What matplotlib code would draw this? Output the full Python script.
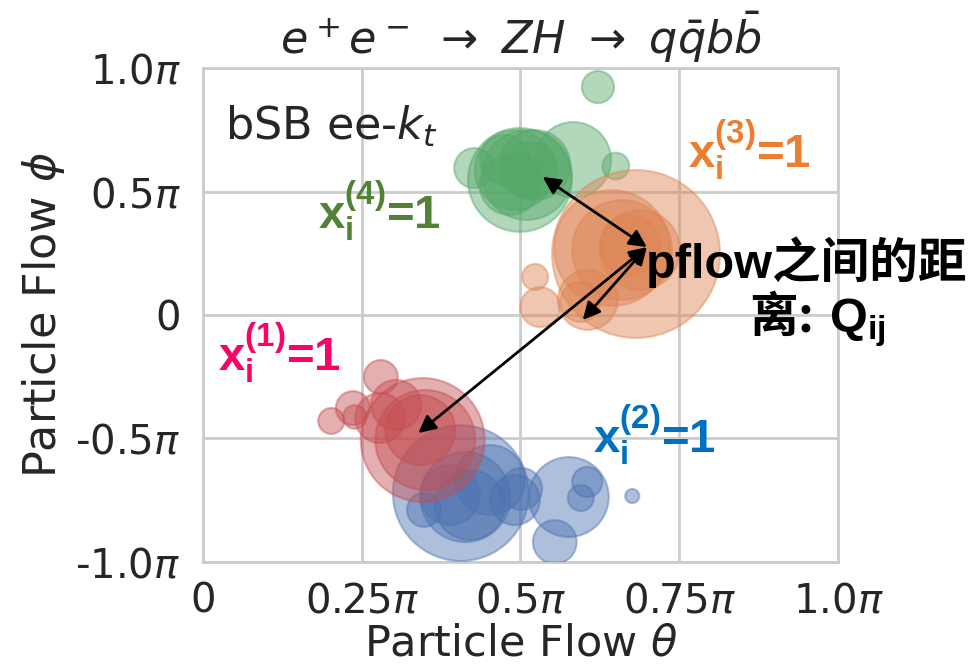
import matplotlib
matplotlib.use("Agg")
import matplotlib.pyplot as plt
import seaborn as sns

sns.set_style("whitegrid")
plt.rcParams["font.family"] = ["DejaVu Sans"]
plt.rcParams["mathtext.fontset"] = "custom"
plt.rcParams["mathtext.rm"] = "DejaVu Sans"
plt.rcParams["mathtext.it"] = "DejaVu Sans:italic"
plt.rcParams["mathtext.sf"] = "DejaVu Sans"
plt.rcParams["mathtext.bf"] = "Liberation Sans:bold"

# particle-flow candidates (theta, phi in units of pi) and their energies, per jet
jet4_theta = [0.622, 0.583, 0.650, 0.427, 0.499, 0.510, 0.491, 0.523, 0.483, 0.476, 0.515, 0.499]
jet4_phi = [0.923, 0.628, 0.603, 0.595, 0.547, 0.567, 0.587, 0.607, 0.526, 0.628, 0.587, 0.567]
jet4_e = [2.6, 14.4, 1.8, 4.0, 27.0, 20.3, 16.0, 12.3, 9.0, 6.3, 7.8, 4.0]

jet3_theta = [0.682, 0.644, 0.660, 0.688, 0.523, 0.531, 0.606, 0.594, 0.672]
jet3_phi = [0.247, 0.271, 0.263, 0.263, 0.154, 0.032, 0.061, 0.053, 0.283]
jet3_e = [70.6, 33.6, 25.0, 16.0, 1.7, 4.0, 9.0, 4.0, 9.0]

jet2_theta = [0.406, 0.348, 0.413, 0.420, 0.389, 0.501, 0.576, 0.605, 0.595, 0.554, 0.676, 0.491, 0.452]
jet2_phi = [-0.721, -0.789, -0.737, -0.769, -0.729, -0.704, -0.737, -0.676, -0.741, -0.919, -0.733, -0.749, -0.668]
jet2_e = [46.2, 2.9, 20.3, 12.3, 9.0, 4.4, 16.0, 2.3, 1.7, 4.8, 0.5, 6.3, 12.3]

jet1_theta = [0.280, 0.346, 0.350, 0.202, 0.236, 0.239, 0.304, 0.279, 0.342]
jet1_phi = [-0.251, -0.506, -0.506, -0.429, -0.377, -0.413, -0.364, -0.417, -0.466]
jet1_e = [2.9, 38.4, 25.0, 1.7, 2.9, 1.4, 6.3, 6.3, 12.3]

# distances Q_ij drawn between pflow candidates: (theta_a, phi_a, theta_b, phi_b)
pair_theta_a = [0.535, 0.699, 0.699]
pair_phi_a = [0.559, 0.275, 0.275]
pair_theta_b = [0.699, 0.598, 0.339]
pair_phi_b = [0.275, -0.020, -0.478]

x_ticks = [0, 0.25, 0.5, 0.75, 1.0]
x_ticklabels = ["0", r"$0.25\pi$", r"$0.5\pi$", r"$0.75\pi$", r"$1.0\pi$"]
y_ticks = [-1.0, -0.5, 0, 0.5, 1.0]
y_ticklabels = [r"-$1.0\pi$", r"-$0.5\pi$", "0", r"$0.5\pi$", r"$1.0\pi$"]

pal = sns.color_palette("deep")
c_blue, c_orange, c_green, c_red = pal[0], pal[1], pal[2], pal[3]

fig = plt.figure(figsize=(9.69, 6.70), dpi=100)
ax = fig.add_axes([0.2095, 0.1612, 0.6553, 0.7373])

size_scale = 207.0
for th, ph, e, c in [
    (jet4_theta, jet4_phi, jet4_e, c_green),
    (jet3_theta, jet3_phi, jet3_e, c_orange),
    (jet2_theta, jet2_phi, jet2_e, c_blue),
    (jet1_theta, jet1_phi, jet1_e, c_red),
]:
    ax.scatter(th, ph, s=[v * size_scale for v in e], color=c, alpha=0.45,
               edgecolors=c, linewidths=1.5, zorder=3)

for xa, ya, xb, yb in zip(pair_theta_a, pair_phi_a, pair_theta_b, pair_phi_b):
    ax.annotate("", xy=(xb, yb), xytext=(xa, ya),
                arrowprops=dict(arrowstyle="<|-|>", color="black", lw=2.0,
                                mutation_scale=26, shrinkA=0, shrinkB=0),
                zorder=5)

ax.set_xlim(0, 1.0)
ax.set_ylim(-1.0, 1.0)
ax.set_xticks(x_ticks)
ax.set_xticklabels(x_ticklabels)
ax.set_yticks(y_ticks)
ax.set_yticklabels(y_ticklabels)
ax.tick_params(axis="x", labelsize=29, pad=14, colors=".15", length=0)
ax.tick_params(axis="y", labelsize=29, pad=16, colors=".15", length=0)
ax.grid(True, color=".8", lw=2)
for sp in ax.spines.values():
    sp.set_color(".8")
    sp.set_linewidth(2)

ax.set_xlabel(r"Particle Flow $\theta$", fontsize=31, color=".15", labelpad=1)
ax.set_ylabel(r"Particle Flow $\phi$", fontsize=32, color=".15", labelpad=6)
ax.set_title(r"$e^+e^-\ \rightarrow\ ZH\ \rightarrow\ q\bar{q}b\bar{b}$",
             fontsize=32, color=".15", pad=10)

ax.text(0.035, 0.854, r"bSB ee-$k_t$", transform=ax.transAxes, fontsize=32,
        color=".15", ha="left", va="baseline")

lab_font = dict(family="Liberation Sans", weight="bold", fontsize=34,
                ha="left", va="baseline", zorder=6)
ax.text(0.181, 0.352, r"$\mathbf{x_i^{(4)}}$=1", color="#548235", **lab_font)
ax.text(0.764, 0.599, r"$\mathbf{x_i^{(3)}}$=1", color="#ED7D31", **lab_font)
ax.text(0.024, -0.223, r"$\mathbf{x_i^{(1)}}$=1", color="#FF0066", **lab_font)
ax.text(0.614, -0.555, r"$\mathbf{x_i^{(2)}}$=1", color="#0070C0", **lab_font)

q_font = dict(family=["Liberation Sans", "Noto Sans CJK SC"], weight="bold",
              fontsize=35, color="black", ha="center", va="baseline",
              clip_on=False, zorder=6)
ax.text(0.950, 0.150, "pflow之间的距", **q_font)
q_font["family"] = "Noto Sans CJK SC"
ax.text(0.968, -0.068, "离:$\\ \\mathbf{Q_{ij}}$", **q_font)

fig.savefig("out.png", dpi=100)
